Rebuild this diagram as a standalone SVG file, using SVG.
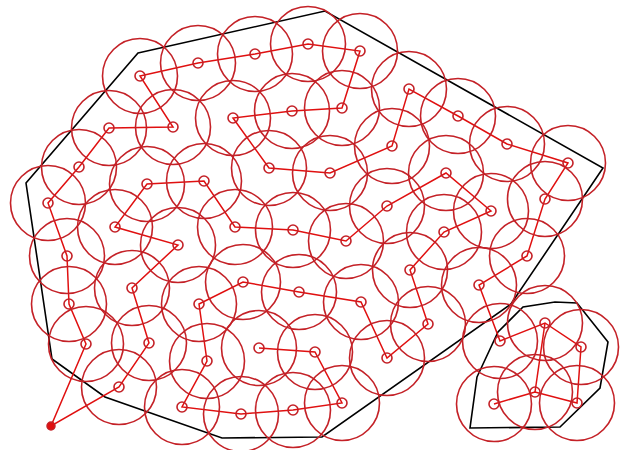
<svg xmlns="http://www.w3.org/2000/svg" width="625" height="450" viewBox="0 0 625 450">
<style>
.big{fill:none;stroke:#c42127;stroke-width:1.6}
.sm{fill:none;stroke:#c42127;stroke-width:1.6}
.e{stroke:#e01010;stroke-width:1.5;fill:none}
.hull{fill:none;stroke:#000;stroke-width:1.6}
</style>
<rect width="625" height="450" fill="#fff"/>
<g id="hulls">
<path class="hull" d="M138,53 L325,11 L603,168 L511,304 L322,437 L222,438 L105,397 L52,359 L26,183 Z"/>
<path class="hull" d="M477,377 L498,332 L523,307 L555,302 L577,303 L608,342 L600,388 L560,427 L470,428 Z"/>
</g>
<g id="connectors">
<polyline class="e" points="259,348 315,352 342,403 293,410 241,414 182,407 207,361 199,304 243,282 299,292 361,302 387,358 428,324 410,270 444,232 491,211 446,173 387,206 346,241 293,230 235,227 204,181 147,184 115,227 178,245 132,288 149,343 119,387 51,426 86,344 69,304 67,256 48,203 79,167 109,128 173,127 140,76 198,63 255,54 308,44 360,51 342,108 292,111 233,118 269,168 330,173 392,146 409,89 458,116 507,144 568,163 545,199 527,256 479,285 500,341 545,323 581,347 577,403 535,392 494,404"/>
<line class="e" x1="535" y1="392" x2="545" y2="323"/>
</g>
<g id="nodes">
<g id="n1"><circle class="big" cx="140" cy="76" r="37.5"/><circle class="sm" cx="140" cy="76" r="5"/></g>
<g id="n2"><circle class="big" cx="198" cy="63" r="37.5"/><circle class="sm" cx="198" cy="63" r="5"/></g>
<g id="n3"><circle class="big" cx="255" cy="54" r="37.5"/><circle class="sm" cx="255" cy="54" r="5"/></g>
<g id="n4"><circle class="big" cx="308" cy="44" r="37.5"/><circle class="sm" cx="308" cy="44" r="5"/></g>
<g id="n5"><circle class="big" cx="360" cy="51" r="37.5"/><circle class="sm" cx="360" cy="51" r="5"/></g>
<g id="n6"><circle class="big" cx="109" cy="128" r="37.5"/><circle class="sm" cx="109" cy="128" r="5"/></g>
<g id="n7"><circle class="big" cx="173" cy="127" r="37.5"/><circle class="sm" cx="173" cy="127" r="5"/></g>
<g id="n8"><circle class="big" cx="233" cy="118" r="37.5"/><circle class="sm" cx="233" cy="118" r="5"/></g>
<g id="n9"><circle class="big" cx="292" cy="111" r="37.5"/><circle class="sm" cx="292" cy="111" r="5"/></g>
<g id="n10"><circle class="big" cx="342" cy="108" r="37.5"/><circle class="sm" cx="342" cy="108" r="5"/></g>
<g id="n11"><circle class="big" cx="409" cy="89" r="37.5"/><circle class="sm" cx="409" cy="89" r="5"/></g>
<g id="n12"><circle class="big" cx="458" cy="116" r="37.5"/><circle class="sm" cx="458" cy="116" r="5"/></g>
<g id="n13"><circle class="big" cx="507" cy="144" r="37.5"/><circle class="sm" cx="507" cy="144" r="5"/></g>
<g id="n14"><circle class="big" cx="568" cy="163" r="37.5"/><circle class="sm" cx="568" cy="163" r="5"/></g>
<g id="n15"><circle class="big" cx="392" cy="146" r="37.5"/><circle class="sm" cx="392" cy="146" r="5"/></g>
<g id="n16"><circle class="big" cx="79" cy="167" r="37.5"/><circle class="sm" cx="79" cy="167" r="5"/></g>
<g id="n17"><circle class="big" cx="48" cy="203" r="37.5"/><circle class="sm" cx="48" cy="203" r="5"/></g>
<g id="n18"><circle class="big" cx="147" cy="184" r="37.5"/><circle class="sm" cx="147" cy="184" r="5"/></g>
<g id="n19"><circle class="big" cx="204" cy="181" r="37.5"/><circle class="sm" cx="204" cy="181" r="5"/></g>
<g id="n20"><circle class="big" cx="269" cy="168" r="37.5"/><circle class="sm" cx="269" cy="168" r="5"/></g>
<g id="n21"><circle class="big" cx="330" cy="173" r="37.5"/><circle class="sm" cx="330" cy="173" r="5"/></g>
<g id="n22"><circle class="big" cx="446" cy="173" r="37.5"/><circle class="sm" cx="446" cy="173" r="5"/></g>
<g id="n23"><circle class="big" cx="387" cy="206" r="37.5"/><circle class="sm" cx="387" cy="206" r="5"/></g>
<g id="n24"><circle class="big" cx="545" cy="199" r="37.5"/><circle class="sm" cx="545" cy="199" r="5"/></g>
<g id="n25"><circle class="big" cx="491" cy="211" r="37.5"/><circle class="sm" cx="491" cy="211" r="5"/></g>
<g id="n26"><circle class="big" cx="115" cy="227" r="37.5"/><circle class="sm" cx="115" cy="227" r="5"/></g>
<g id="n27"><circle class="big" cx="178" cy="245" r="37.5"/><circle class="sm" cx="178" cy="245" r="5"/></g>
<g id="n28"><circle class="big" cx="235" cy="227" r="37.5"/><circle class="sm" cx="235" cy="227" r="5"/></g>
<g id="n29"><circle class="big" cx="293" cy="230" r="37.5"/><circle class="sm" cx="293" cy="230" r="5"/></g>
<g id="n30"><circle class="big" cx="346" cy="241" r="37.5"/><circle class="sm" cx="346" cy="241" r="5"/></g>
<g id="n31"><circle class="big" cx="444" cy="232" r="37.5"/><circle class="sm" cx="444" cy="232" r="5"/></g>
<g id="n32"><circle class="big" cx="67" cy="256" r="37.5"/><circle class="sm" cx="67" cy="256" r="5"/></g>
<g id="n33"><circle class="big" cx="132" cy="288" r="37.5"/><circle class="sm" cx="132" cy="288" r="5"/></g>
<g id="n34"><circle class="big" cx="243" cy="282" r="37.5"/><circle class="sm" cx="243" cy="282" r="5"/></g>
<g id="n35"><circle class="big" cx="299" cy="292" r="37.5"/><circle class="sm" cx="299" cy="292" r="5"/></g>
<g id="n36"><circle class="big" cx="410" cy="270" r="37.5"/><circle class="sm" cx="410" cy="270" r="5"/></g>
<g id="n37"><circle class="big" cx="527" cy="256" r="37.5"/><circle class="sm" cx="527" cy="256" r="5"/></g>
<g id="n38"><circle class="big" cx="479" cy="285" r="37.5"/><circle class="sm" cx="479" cy="285" r="5"/></g>
<g id="n39"><circle class="big" cx="69" cy="304" r="37.5"/><circle class="sm" cx="69" cy="304" r="5"/></g>
<g id="n40"><circle class="big" cx="199" cy="304" r="37.5"/><circle class="sm" cx="199" cy="304" r="5"/></g>
<g id="n41"><circle class="big" cx="361" cy="302" r="37.5"/><circle class="sm" cx="361" cy="302" r="5"/></g>
<g id="n42"><circle class="big" cx="86" cy="344" r="37.5"/><circle class="sm" cx="86" cy="344" r="5"/></g>
<g id="n43"><circle class="big" cx="149" cy="343" r="37.5"/><circle class="sm" cx="149" cy="343" r="5"/></g>
<g id="n44"><circle class="big" cx="207" cy="361" r="37.5"/><circle class="sm" cx="207" cy="361" r="5"/></g>
<g id="n45"><circle class="big" cx="259" cy="348" r="37.5"/><circle class="sm" cx="259" cy="348" r="5"/></g>
<g id="n46"><circle class="big" cx="315" cy="352" r="37.5"/><circle class="sm" cx="315" cy="352" r="5"/></g>
<g id="n47"><circle class="big" cx="428" cy="324" r="37.5"/><circle class="sm" cx="428" cy="324" r="5"/></g>
<g id="n48"><circle class="big" cx="387" cy="358" r="37.5"/><circle class="sm" cx="387" cy="358" r="5"/></g>
<g id="n49"><circle class="big" cx="342" cy="403" r="37.5"/><circle class="sm" cx="342" cy="403" r="5"/></g>
<g id="n50"><circle class="big" cx="119" cy="387" r="37.5"/><circle class="sm" cx="119" cy="387" r="5"/></g>
<g id="n51"><circle class="big" cx="182" cy="407" r="37.5"/><circle class="sm" cx="182" cy="407" r="5"/></g>
<g id="n52"><circle class="big" cx="241" cy="414" r="37.5"/><circle class="sm" cx="241" cy="414" r="5"/></g>
<g id="n53"><circle class="big" cx="293" cy="410" r="37.5"/><circle class="sm" cx="293" cy="410" r="5"/></g>
<g id="n54"><circle class="big" cx="545" cy="323" r="37.5"/><circle class="sm" cx="545" cy="323" r="5"/></g>
<g id="n55"><circle class="big" cx="500" cy="341" r="37.5"/><circle class="sm" cx="500" cy="341" r="5"/></g>
<g id="n56"><circle class="big" cx="581" cy="347" r="37.5"/><circle class="sm" cx="581" cy="347" r="5"/></g>
<g id="n57"><circle class="big" cx="535" cy="392" r="37.5"/><circle class="sm" cx="535" cy="392" r="5"/></g>
<g id="n58"><circle class="big" cx="494" cy="404" r="37.5"/><circle class="sm" cx="494" cy="404" r="5"/></g>
<g id="n59"><circle class="big" cx="577" cy="403" r="37.5"/><circle class="sm" cx="577" cy="403" r="5"/></g>
<g id="start"><circle cx="51" cy="426" r="4" fill="#e01010" stroke="#c42127" stroke-width="1.5"/></g>
</g>
</svg>
